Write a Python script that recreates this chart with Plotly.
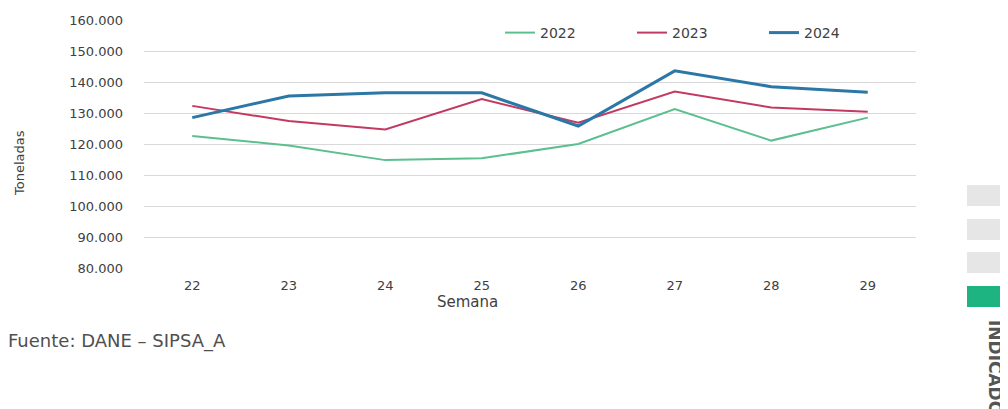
import plotly.graph_objects as go

# weekly volumes (tonnes)
semanas = ["22", "23", "24", "25", "26", "27", "28", "29"]
t2022 = [122600, 119500, 114800, 115400, 120000, 131300, 121100, 128500]
t2023 = [132300, 127400, 124700, 134500, 126900, 136900, 131800, 130400]
t2024 = [128500, 135500, 136500, 136500, 125800, 143600, 138500, 136700]
y_ticks = [80000, 90000, 100000, 110000, 120000, 130000, 140000, 150000, 160000]

# page has an 8px body margin, so the figure is a bit smaller than the window
OFF = 8
W, H = 1008 - OFF, 409 - OFF
L, R, T, B = 144 - OFF, 92, 20 - OFF, 141


def px(x):
    # page pixel -> paper coord
    return (x - OFF - L) / (W - L - R)


def py(y):
    return (H - B - (y - OFF)) / (H - T - B)


fig = go.Figure()
series = [
    ("2022", t2022, "#5cbf8e", 2),
    ("2023", t2023, "#c23a61", 2),
    ("2024", t2024, "#2b77a6", 3),
]
for name, vals, color, width in series:
    fig.add_trace(
        go.Scatter(
            x=semanas,
            y=vals,
            mode="lines",
            name=name,
            line=dict(color=color, width=width),
        )
    )

# side decoration (page tabs)
shapes = []
for y0, y1, col in [(185, 206, "#e6e6e6"), (219, 240, "#e6e6e6"),
                    (252, 273, "#e6e6e6"), (286, 307, "#1db482")]:
    shapes.append(dict(type="rect", xref="paper", yref="paper",
                       x0=px(967), x1=px(1012), y0=py(y1), y1=py(y0),
                       fillcolor=col, line=dict(width=0), layer="above"))

annotations = [
    dict(text="Toneladas", xref="paper", yref="paper", x=px(19), y=py(163),
         textangle=-90, showarrow=False, font=dict(size=13, color="#404040"),
         xanchor="center", yanchor="middle"),
    dict(text="Semana", xref="paper", yref="paper", x=px(467), y=py(302),
         showarrow=False, font=dict(size=15, color="#404040"),
         xanchor="center", yanchor="middle"),
    dict(text="Fuente: DANE – SIPSA_A", xref="paper", yref="paper",
         x=px(6), y=py(341), showarrow=False,
         font=dict(size=18, color="#505050"), xanchor="left", yanchor="middle"),
    dict(text="<b>INDICADORES</b>", xref="paper", yref="paper",
         x=px(995), y=py(318), textangle=90, showarrow=False,
         font=dict(size=17, color="#555555"), xanchor="center", yanchor="top"),
]

fig.update_layout(
    width=W,
    height=H,
    margin=dict(l=L, r=R, t=T, b=B, autoexpand=False),
    paper_bgcolor="white",
    plot_bgcolor="white",
    separators=",.",
    font=dict(family="DejaVu Sans", size=13, color="#404040"),
    showlegend=True,
    legend=dict(
        orientation="h",
        x=px(500),
        y=py(33),
        xanchor="left",
        yanchor="middle",
        entrywidth=87,
        entrywidthmode="pixels",
        font=dict(size=14, color="#404040"),
        bgcolor="rgba(0,0,0,0)",
    ),
    shapes=shapes,
    annotations=annotations,
)

fig.update_xaxes(
    type="category",
    range=[-0.5, 7.5],
    showgrid=False,
    showline=False,
    zeroline=False,
    ticks="",
    tickfont=dict(size=13, color="#404040"),
    ticklabelstandoff=8,
)
fig.update_yaxes(
    range=[80000, 160000],
    tickvals=y_ticks,
    tickformat=",d",
    showgrid=True,
    gridcolor="#d9d9d9",
    gridwidth=1,
    zeroline=False,
    showline=False,
    tickfont=dict(size=13, color="#404040"),
    ticklabelstandoff=20,
)

fig.write_html("out.html")
